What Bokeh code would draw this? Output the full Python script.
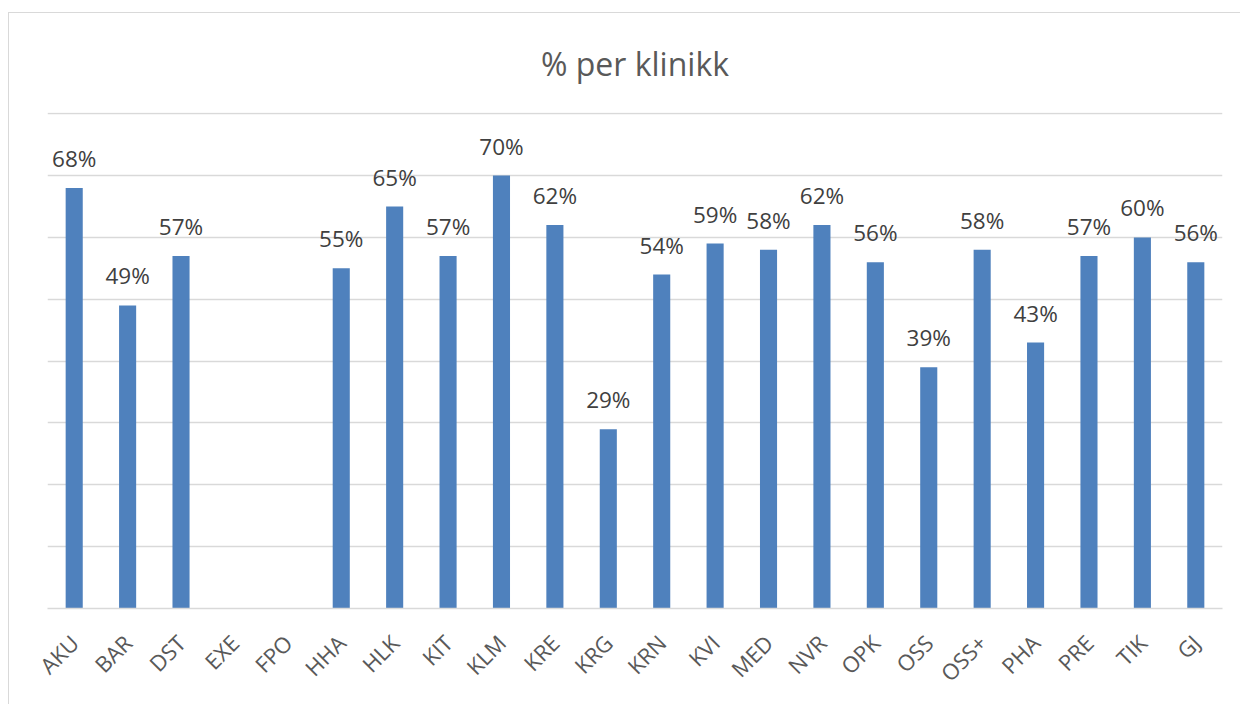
import math
from bokeh.plotting import figure
from bokeh.models import ColumnDataSource, FactorRange, FixedTicker, Range1d
from bokeh.core.properties import value
from bokeh.embed import file_html
from bokeh.resources import INLINE

clinics = ["AKU", "BAR", "DST", "EXE", "FPO", "HHA", "HLK", "KIT", "KLM", "KRE", "KRG",
           "KRN", "KVI", "MED", "NVR", "OPK", "OSS", "OSS+", "PHA", "PRE", "TIK", "GJ"]
shares = [0.68, 0.49, 0.57, None, None, 0.55, 0.65, 0.57, 0.70, 0.62, 0.29,
          0.54, 0.59, 0.58, 0.62, 0.56, 0.39, 0.58, 0.43, 0.57, 0.60, 0.56]
grid_ticks = [0.0, 0.1, 0.2, 0.3, 0.4, 0.5, 0.6, 0.7, 0.8]

cats = [c for c, v in zip(clinics, shares) if v is not None]
vals = [v for v in shares if v is not None]
labels = [f"{round(v * 100)}%" for v in vals]
src = ColumnDataSource(dict(cat=cats, val=vals, lab=labels))

FONT = "Open Sans"

p = figure(x_range=FactorRange(*clinics, range_padding=0), y_range=Range1d(0, 0.802),
           width=1232, height=692, output_backend="svg", toolbar_location=None,
           min_border_left=38, min_border_right=19, min_border_top=99, min_border_bottom=97,
           title="% per klinikk")
p.styles = {"margin-left": "8px", "margin-top": "12px",
            "border-left": "1px solid #d9d9d9", "border-top": "1px solid #d9d9d9"}
p.outline_line_color = None
p.background_fill_color = "white"
p.border_fill_color = "white"

p.title.text_font = FONT
p.title.text_font_size = "32px"
p.title.text_font_style = "normal"
p.title.text_color = "#595959"
p.title.align = "center"
p.title.vertical_align = "top"
p.title.standoff = 52

p.vbar(x="cat", top="val", width=0.32, source=src, color="#4f81bd", line_color=None)
p.text(x="cat", y="val", text="lab", source=src, text_align="center", text_baseline="bottom",
       y_offset=-14, text_font=value(FONT), text_font_size="22.5px", text_color="#404040")

p.yaxis.visible = False
p.ygrid.ticker = FixedTicker(ticks=grid_ticks)
p.ygrid.grid_line_color = "#d9d9d9"
p.ygrid.grid_line_width = 1.5
p.xgrid.grid_line_color = None

ax = p.xaxis[0]
ax.axis_line_color = "#d9d9d9"
ax.axis_line_width = 1.5
ax.major_tick_line_color = None
ax.minor_tick_line_color = None
ax.major_label_orientation = math.pi / 4
ax.major_label_text_font = FONT
ax.major_label_text_font_size = "22px"
ax.major_label_text_color = "#595959"
ax.major_label_standoff = 24
ax.group_text_font_size = "0px"

open("out.html", "w").write(file_html(p, INLINE))
